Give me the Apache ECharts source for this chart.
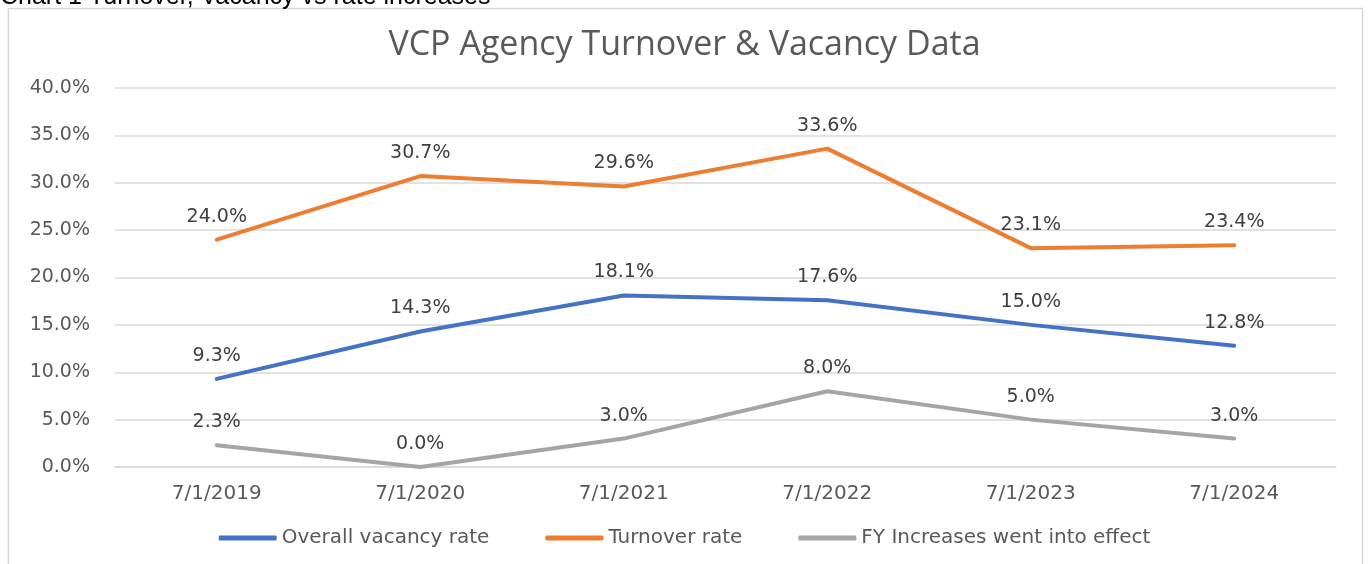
<!DOCTYPE html>
<html>
<head>
<meta charset="utf-8">
<script src="https://cdn.jsdelivr.net/npm/echarts@6/dist/echarts.min.js"></script>
<style>
  html, body { margin: 0; padding: 0; background: #ffffff; }
  #chart { width: 1369px; height: 564px; }
</style>
</head>
<body>
<div id="chart"></div>
<script>
// data
var categories = ['7/1/2019', '7/1/2020', '7/1/2021', '7/1/2022', '7/1/2023', '7/1/2024'];
var vacancyRate = [9.3, 14.3, 18.1, 17.6, 15.0, 12.8];
var turnoverRate = [24.0, 30.7, 29.6, 33.6, 23.1, 23.4];
var fyIncreases = [2.3, 0.0, 3.0, 8.0, 5.0, 3.0];

var labelFont = 'DejaVu Sans';

function lineSeries(name, data, color) {
  return {
    name: name,
    type: 'line',
    data: data,
    symbol: 'circle',
    symbolSize: 1,
    showSymbol: true,
    lineStyle: { color: color, width: 4, cap: 'round', join: 'round' },
    itemStyle: { color: color },
    label: {
      show: true,
      position: 'top',
      distance: 13,
      color: '#404040',
      fontFamily: labelFont,
      fontSize: 19,
      formatter: function (p) { return p.value.toFixed(1) + '%'; }
    }
  };
}

var myChart = echarts.init(document.getElementById('chart'));
var option = {
  backgroundColor: '#ffffff',
  animation: false,
  title: {
    text: 'VCP Agency Turnover & Vacancy Data',
    left: 'center',
    top: 23,
    textStyle: { fontFamily: 'Open Sans', fontWeight: 'normal', fontSize: 34, color: '#595959' }
  },
  graphic: [
    {
      type: 'rect',
      shape: { x: 8.5, y: 8.5, width: 1354, height: 570 },
      style: { fill: 'none', stroke: '#d9d9d9', lineWidth: 1.5 },
      silent: true
    },
    {
      type: 'text',
      left: 0,
      top: -15,
      style: { text: 'Chart 1 Turnover, Vacancy vs rate increases', font: '25px "Liberation Sans"', fill: '#000000' },
      silent: true
    }
  ],
  legend: {
    bottom: 11,
    left: 'center',
    itemWidth: 58,
    itemHeight: 5,
    itemGap: 56,
    icon: 'roundRect',
    textStyle: { fontFamily: labelFont, fontSize: 20, color: '#595959' },
    data: ['Overall vacancy rate', 'Turnover rate', 'FY Increases went into effect']
  },
  grid: { left: 115, right: 33, top: 88, bottom: 97 },
  xAxis: {
    type: 'category',
    data: categories,
    boundaryGap: true,
    axisLine: { lineStyle: { color: '#d9d9d9', width: 1.5 } },
    axisTick: { show: false },
    axisLabel: { color: '#595959', fontFamily: labelFont, fontSize: 20, margin: 17 }
  },
  yAxis: {
    type: 'value',
    min: 0,
    max: 40,
    interval: 5,
    axisLine: { show: false },
    axisTick: { show: false },
    splitLine: { lineStyle: { color: '#d9d9d9', width: 1.5 } },
    axisLabel: {
      color: '#595959', fontFamily: labelFont, fontSize: 19, margin: 25,
      formatter: function (v) { return v.toFixed(1) + '%'; }
    }
  },
  series: [
    lineSeries('Overall vacancy rate', vacancyRate, '#4472C4'),
    lineSeries('Turnover rate', turnoverRate, '#ED7D31'),
    lineSeries('FY Increases went into effect', fyIncreases, '#A5A5A5')
  ]
};
myChart.setOption(option);
</script>
</body>
</html>
